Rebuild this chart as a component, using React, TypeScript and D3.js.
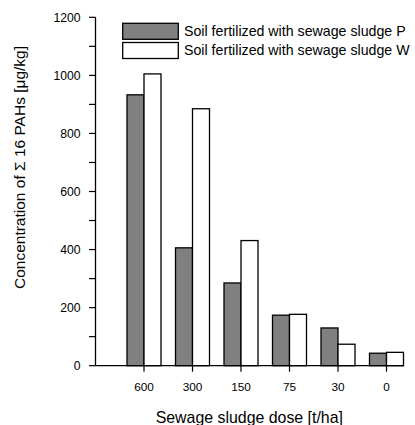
import React from "react";
import * as d3 from "d3";

const categories = ["600", "300", "150", "75", "30", "0"];
const seriesP = [933, 406, 285, 174, 130, 43];
const seriesW = [1005, 885, 431, 177, 74, 46];
const seriesNames = ["Soil fertilized with sewage sludge P", "Soil fertilized with sewage sludge W"];
const seriesColors = ["#808080", "#ffffff"];
const yMajorTicks = [0, 200, 400, 600, 800, 1000, 1200];
const yMinorTicks = [100, 300, 500, 700, 900, 1100];

const W = 415;
const H = 425;
const FONT = "'Liberation Sans', Arial, sans-serif";

export default function App() {
  const y = d3.scaleLinear().domain([0, 1200]).range([365.7, 17.3]);
  const x = d3.scalePoint<string>().domain(categories).range([144, 386.5]).padding(0);
  const bw = 17;
  const axisX = 95.5;
  const axisEnd = (x(categories[categories.length - 1]) as number) + bw;
  const series = [seriesP, seriesW];

  return (
    <svg width={W} height={H} style={{ position: "absolute", left: 0, top: 0, background: "#fff" }} fontFamily={FONT}>
      {/* bars */}
      {series.map((vals, si) =>
        vals.map((v, i) => {
          const cx = x(categories[i]) as number;
          const x0 = si === 0 ? cx - bw : cx;
          return (
            <rect
              key={`${si}-${i}`}
              x={x0}
              y={y(v)}
              width={bw}
              height={y(0) - y(v)}
              fill={seriesColors[si]}
              stroke="#000"
              strokeWidth={1.3}
            />
          );
        })
      )}
      {/* y axis */}
      <line x1={axisX} x2={axisX} y1={y(1200)} y2={y(0)} stroke="#000" strokeWidth={1.3} />
      {yMajorTicks.map((t) => (
        <g key={`ym${t}`}>
          <line x1={axisX - 6.5} x2={axisX} y1={y(t)} y2={y(t)} stroke="#000" strokeWidth={1.2} />
          <text x={80.5} y={y(t)} dy="0.35em" textAnchor="end" fontSize={12.2} fill="#000">
            {t}
          </text>
        </g>
      ))}
      {yMinorTicks.map((t) => (
        <line key={`yn${t}`} x1={axisX - 6.5} x2={axisX} y1={y(t)} y2={y(t)} stroke="#000" strokeWidth={1.2} />
      ))}
      {/* x axis */}
      <line x1={axisX} x2={axisEnd} y1={y(0)} y2={y(0)} stroke="#000" strokeWidth={1.3} />
      {categories.map((c) => (
        <g key={`xc${c}`}>
          <line x1={x(c)} x2={x(c)} y1={y(0)} y2={y(0) + 6} stroke="#000" strokeWidth={1.2} />
          <text x={x(c)} y={390.7} textAnchor="middle" fontSize={11.8} fill="#000">
            {c}
          </text>
        </g>
      ))}
      {/* axis titles */}
      <text x={249.3} y={422.5} textAnchor="middle" fontSize={15.9} fill="#000">
        Sewage sludge dose [t/ha]
      </text>
      <text
        transform={`translate(24.5,167.5) rotate(-90)`}
        textAnchor="middle"
        fontSize={15.5}
        fill="#000"
      >
        Concentration of Σ 16 PAHs [μg/kg]
      </text>
      {/* legend */}
      {seriesNames.map((n, i) => (
        <g key={`lg${i}`}>
          <rect x={122.7} y={23.3 + i * 19.2} width={55.6} height={16} fill={seriesColors[i]} stroke="#000" strokeWidth={1.3} />
          <text x={184} y={31.3 + i * 19.2} dy="0.35em" fontSize={14.2} fill="#000">
            {n}
          </text>
        </g>
      ))}
    </svg>
  );
}
